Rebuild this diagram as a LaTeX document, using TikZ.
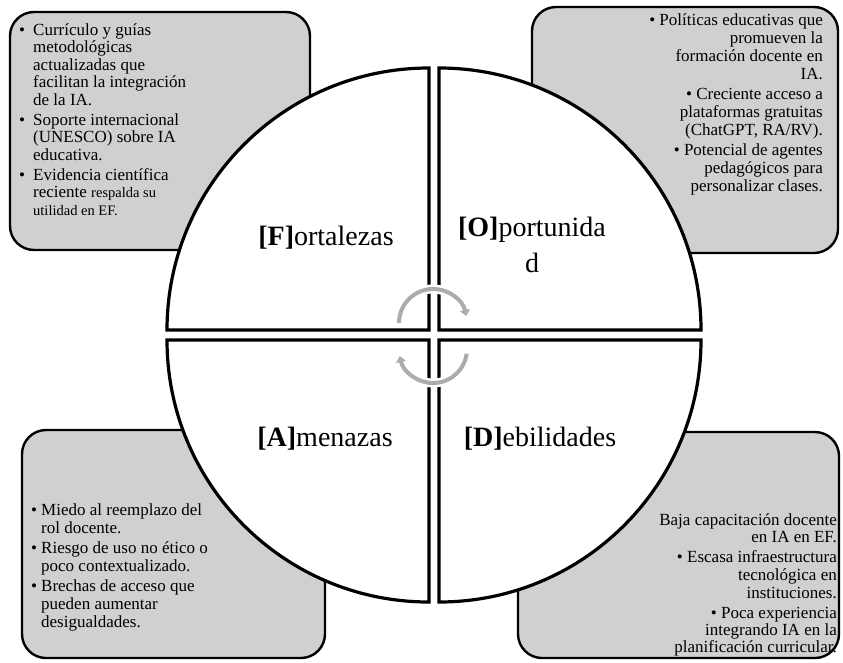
\documentclass[tikz,border=0pt]{standalone}
\usepackage{fontspec}
\setmainfont{Liberation Serif}
\usetikzlibrary{arrows.meta}
\definecolor{boxgray}{RGB}{208,208,208}
\definecolor{arrgray}{RGB}{172,172,172}
\tikzset{
  box/.style={draw=black, line width=2.4pt, fill=boxgray, rounded corners=24pt},
  quad/.style={draw=black, line width=3.2pt, fill=white, line join=miter},
  txt/.style={inner sep=0pt, font=\fontsize{17}{18}\selectfont},
  lab/.style={inner sep=0pt, font=\fontsize{28}{32}\selectfont, anchor=base},
  halo/.style={white, line width=9pt},
  cyc/.style={arrgray, line width=4pt, -{Triangle[width=10pt,length=6pt]}},
}
\newcommand{\bul}{\makebox[14pt][l]{•}}
\newcommand{\bulb}{\makebox[10pt][l]{•}}
\begin{document}
\begin{tikzpicture}[x=1pt,y=-1pt]
\useasboundingbox (0,0) rectangle (843,662);
% boxes
\draw[box] (10,12) rectangle (310,250);
\draw[box] (532,7) rectangle (838,253);
\draw[box] (22,430) rectangle (325,658);
\draw[box] (518,432) rectangle (839,658);
% quadrants
\draw[quad] (429,330) -- (167,330) arc[start angle=180, end angle=270, radius=262] -- cycle;
\draw[quad] (439,330) -- (439,68) arc[start angle=270, end angle=360, radius=262] -- cycle;
\draw[quad] (429,340) -- (167,340) arc[start angle=180, end angle=90, radius=262] -- cycle;
\draw[quad] (439,340) -- (701,340) arc[start angle=0, end angle=90, radius=262] -- cycle;
% cycle arrows
\draw[halo] (433,323) ++(180:34) arc[start angle=180, end angle=346, radius=34];
\draw[halo] (433,349) ++(8:34) arc[start angle=8, end angle=166, radius=34];
\draw[cyc] (433,323) ++(180:34) arc[start angle=180, end angle=348, radius=34];
\draw[cyc] (433,349) ++(8:34) arc[start angle=8, end angle=168, radius=34];
% labels
\node[lab] (lf) at (326,245) {\textbf{[F]}ortalezas};
\node[lab] (lo) at (532,236) {\textbf{[O]}portunida};
\node[lab] (lo2) at (532,272) {d};
\node[lab] (la) at (325,446) {\textbf{[A]}menazas};
\node[lab] (ld) at (540,446) {\textbf{[D]}ebilidades};
% top-left text
\foreach \y/\x/\t [count=\i] in {35/19/{\bul Currículo y guías}, 52.5/33/{metodológicas}, 70/33/{actualizadas que}, 87.5/33/{facilitan la integración}, 105/33/{de la IA.}, 125/19/{\bul Soporte internacional}, 142.5/33/{(UNESCO) sobre IA}, 160/33/{educativa.}, 180/19/{\bul Evidencia científica}, 197.5/33/{reciente {\fontsize{14.5}{16}\selectfont respalda su}}, 215/33/{{\fontsize{14.5}{16}\selectfont utilidad en EF.}}}
  \node[txt, anchor=base west] (tl\i) at (\x,\y) {\t};
% top-right text
\foreach \y/\t [count=\i] in {25/{• Políticas educativas que}, 43/{promueven la}, 61/{formación docente en}, 79/{IA.}, 99/{• Creciente acceso a}, 117/{plataformas gratuitas}, 135/{(ChatGPT, RA/RV).}, 155/{• Potencial de agentes}, 173/{pedagógicos para}, 191/{personalizar clases.}}
  \node[txt, anchor=base east] (tr\i) at (823,\y) {\t};
% bottom-left text
\foreach \y/\x/\t [count=\i] in {515/31/{\bulb Miedo al reemplazo del}, 533/41/{rol docente.}, 553/31/{\bulb Riesgo de uso no ético o}, 571/41/{poco contextualizado.}, 591/31/{\bulb Brechas de acceso que}, 609/41/{pueden aumentar}, 627/41/{desigualdades.}}
  \node[txt, anchor=base west] (bl\i) at (\x,\y) {\t};
% bottom-right text
\foreach \y/\t [count=\i] in {525/{Baja capacitación docente}, 542/{en IA en EF.}, 562/{• Escasa infraestructura}, 580/{tecnológica en}, 598/{instituciones.}, 618/{• Poca experiencia}, 635/{integrando IA en la}, 652/{planificación curricular.}}
  \node[txt, anchor=base east] (br\i) at (837,\y) {\t};
\end{tikzpicture}
\end{document}
